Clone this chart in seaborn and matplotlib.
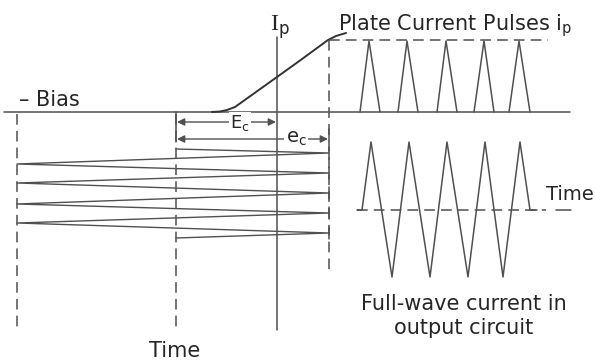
import matplotlib
matplotlib.use("Agg")
import matplotlib.pyplot as plt
import numpy as np
import pandas as pd
import seaborn as sns

# ---- diagram data (pixel space, y down) ----
# bias line and plate characteristic curve
base_y = 112
curve_x = [212, 220, 227, 235, 277, 300, 328, 336, 346]
curve_y = [112, 111.5, 110, 107, 77, 60.5, 40, 36, 33]

# plate current pulses (upper right)
pulse_left = [360, 398, 437, 474, 509]
pulse_peak = [369, 407, 446, 484, 519]
pulse_right = [380, 418, 457, 494, 530]
pulse_top = 41

# full-wave output current (lower right)
wave_x = [357, 362, 371, 392, 409, 430, 447, 468, 485, 503, 520, 530, 537]
wave_y = [210, 210, 142, 277, 142, 277, 142, 277, 142, 277, 142, 210, 210]

# grid signal swinging between the two dashed limits
grid_x = [176, 329, 17, 329, 17, 329, 17, 329, 17, 329, 176]
grid_y = [149, 153, 164, 173, 183, 193, 204, 213, 223, 233, 238]

LINE = "#505050"
TEXT = "#262626"

sns.set_theme(style="white")
plt.rcParams["font.family"] = ["DejaVu Sans"]

fig = plt.figure(figsize=(5.96, 3.6), dpi=100)
ax = fig.add_axes([0, 0, 1, 1])
ax.set_xlim(0, 596)
ax.set_ylim(360, 0)
ax.axis("off")


def path(x, y, lw=1.1, ls="-", color=LINE):
    df = pd.DataFrame({"x": x, "y": y})
    sns.lineplot(data=df, x="x", y="y", sort=False, estimator=None, ax=ax,
                 color=color, linewidth=lw, linestyle=ls)


dash = (0, (7, 4))

# baseline and Ip axis
path([4, 570], [base_y, base_y])
path([277, 277], [37, 330])
path(curve_x, curve_y, lw=1.4, color="#333333")

# dashed limits
path([17, 17], [114, 330], ls=dash)
path([176, 176], [114, 330], ls=dash)
path([329, 329], [40, 272], ls=dash)
path([329, 548], [pulse_top - 1, pulse_top - 1], ls=dash)
path([357, 546], [210, 210], ls=dash)
path([556, 571], [210, 210])

# pulses
px, py = [], []
for l, p, r in zip(pulse_left, pulse_peak, pulse_right):
    px += [l, p, r, np.nan]
    py += [base_y, pulse_top, base_y, np.nan]
ax.plot(px, py, color=LINE, lw=1.1)

# full wave
path(wave_x, wave_y, lw=1.1)

# grid swing
path(grid_x, grid_y, lw=1.0)
for gy in grid_y[1:-1:2]:
    ax.plot([329, 329], [gy - 6, gy + 6], color=LINE, lw=1.1)
ax.plot([176, 176], [112, 142], color=LINE, lw=1.1)
ax.plot([329, 329], [129, 141], color=LINE, lw=1.1)

# Ec / ec arrows
arr = dict(arrowstyle="<|-|>", color=LINE, lw=1.0, mutation_scale=11,
           shrinkA=0, shrinkB=0)
ax.annotate("", xy=(177, 122), xytext=(276, 122), arrowprops=arr)
ax.annotate("", xy=(177, 139), xytext=(328, 139), arrowprops=arr)
box = dict(facecolor="white", edgecolor="none", pad=1)
ax.text(240, 123, r"$\mathregular{E_c}$", ha="center", va="center",
        fontsize=13, color=TEXT, bbox=box)
ax.text(296, 139, r"$\mathregular{e_c}$", ha="center", va="center",
        fontsize=14, color=TEXT, bbox=box)

# labels
ax.text(19, 106, "– Bias", ha="left", va="baseline", fontsize=15, color=TEXT)
ax.text(270, 30, "I", ha="left", va="baseline", fontsize=17, color=TEXT,
        family=["Liberation Serif"])
ax.text(279, 34, "p", ha="left", va="baseline", fontsize=12, color=TEXT)
ax.text(338, 30, r"Plate Current Pulses $\mathregular{i_p}$", ha="left",
        va="baseline", fontsize=15, color=TEXT)
ax.text(175, 357, "Time", ha="center", va="baseline", fontsize=15, color=TEXT)
ax.text(546, 200, "Time", ha="left", va="baseline", fontsize=14, color=TEXT)
ax.text(464, 316, "Full-wave current in\noutput circuit", ha="center",
        va="center", fontsize=15, color=TEXT)

fig.savefig("out.png", dpi=100, facecolor="white")
